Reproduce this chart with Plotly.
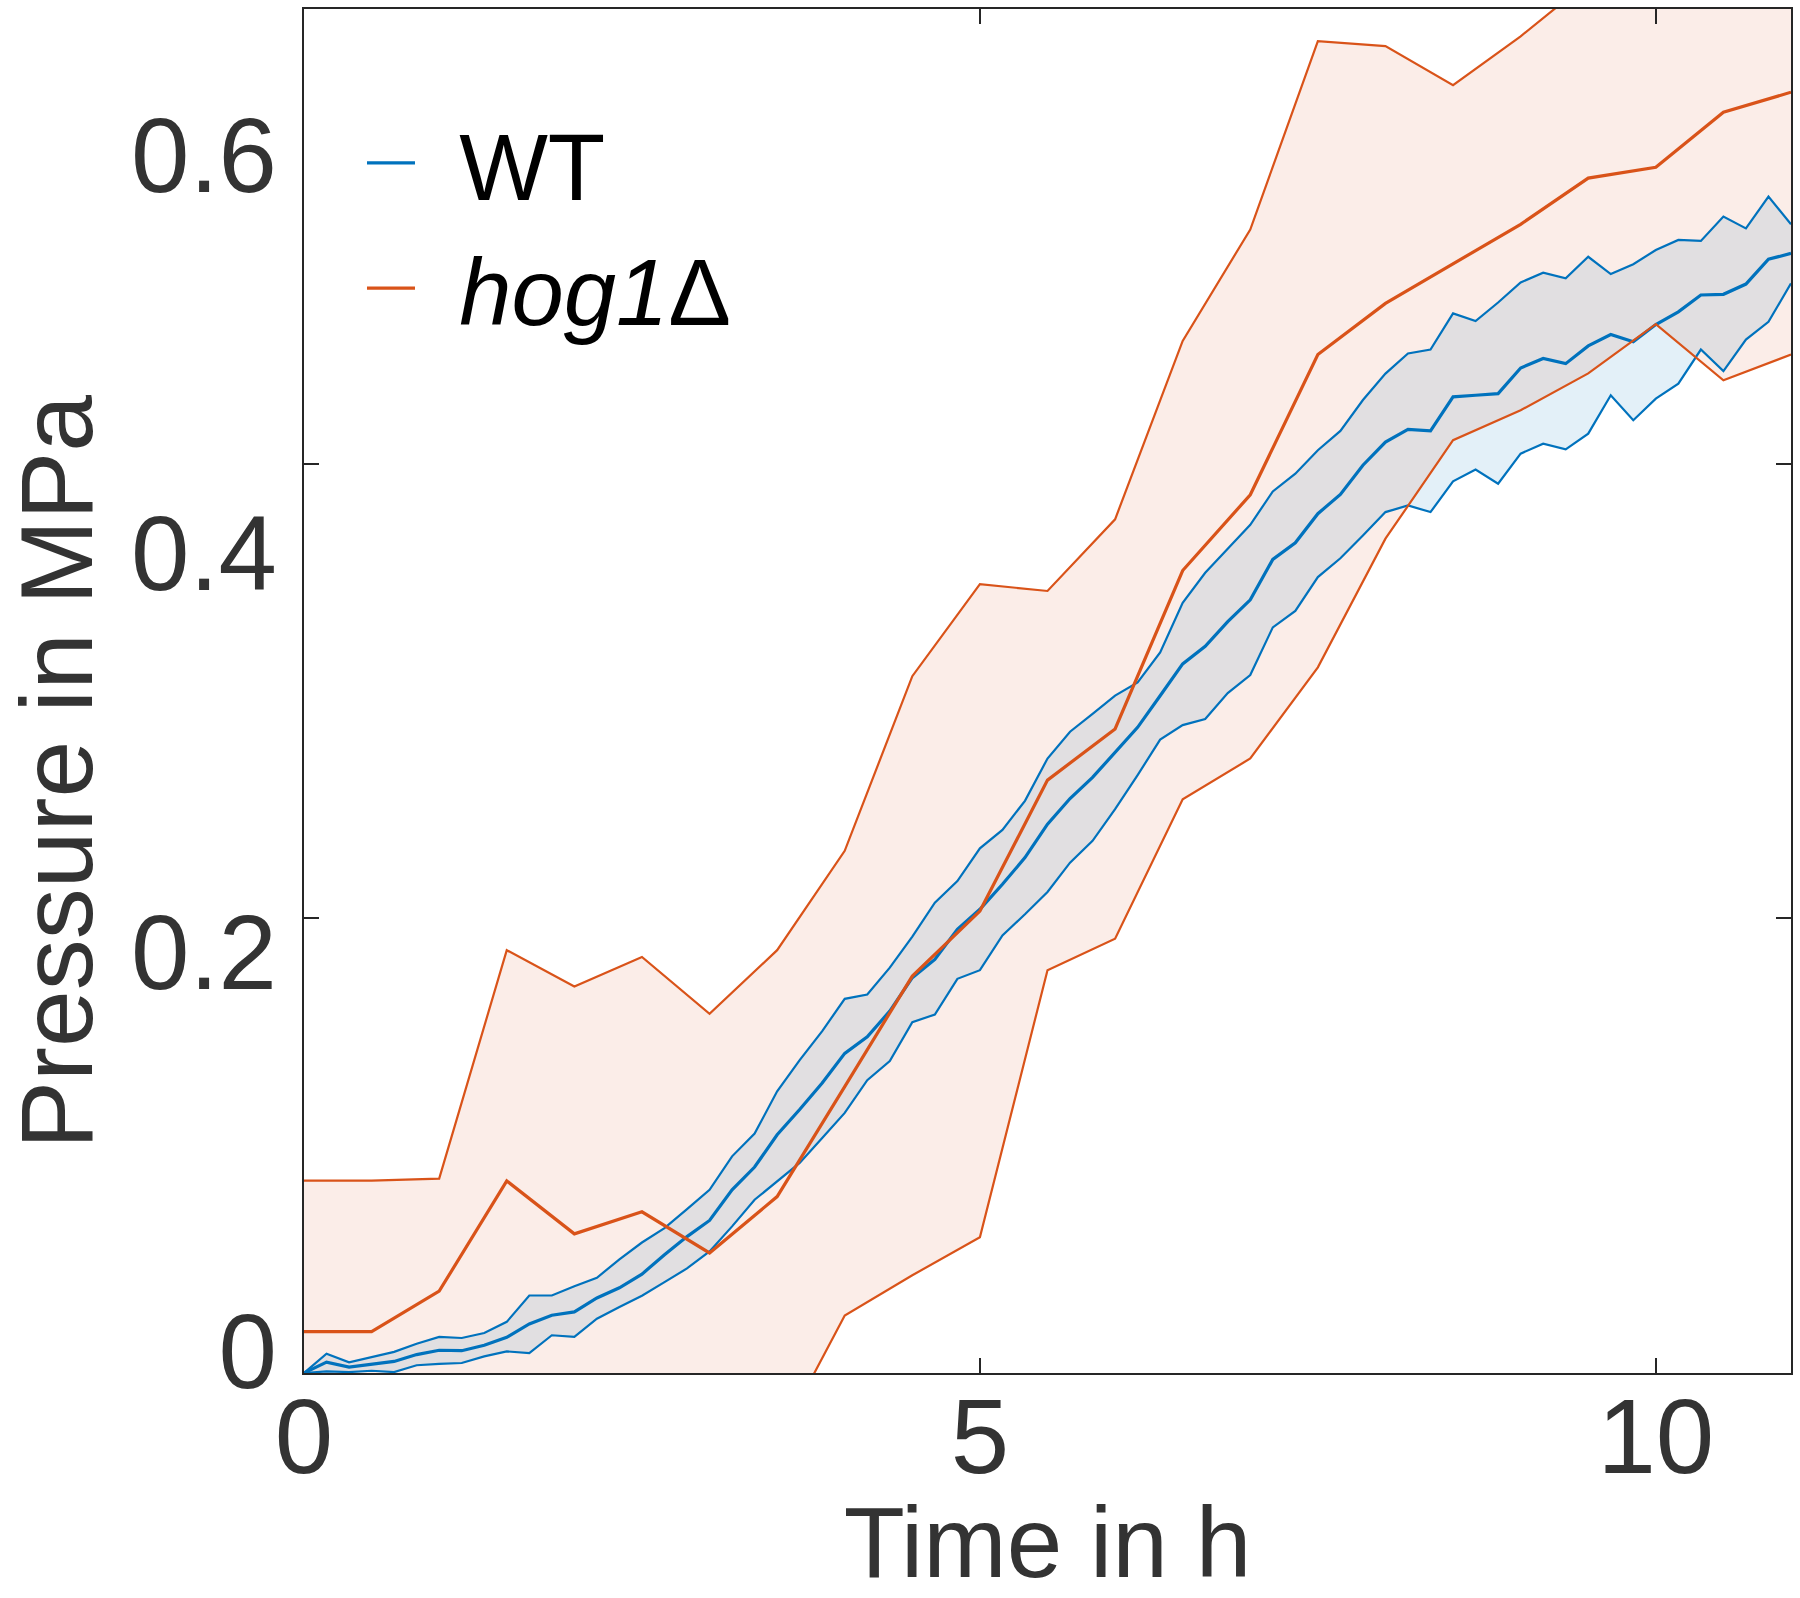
import plotly.graph_objects as go

# ---------------- data ----------------
# WT: sampled every 10 min (1/6 h) from 0 to 11 h
wt_time = [k / 6 for k in range(67)]
wt_mean = [0.0, 0.0048, 0.0026, 0.0040, 0.0051, 0.0081, 0.0100, 0.0098, 0.0122, 0.0157,
           0.0216, 0.0254, 0.0269, 0.0330, 0.0375, 0.0435, 0.0520, 0.0600, 0.0671, 0.0806,
           0.0906, 0.1048, 0.1159, 0.1276, 0.1406, 0.1479, 0.1592, 0.1739, 0.1819, 0.1952,
           0.2040, 0.2150, 0.2267, 0.2414, 0.2527, 0.2620, 0.2730, 0.2840, 0.2979, 0.3119,
           0.3197, 0.3305, 0.3401, 0.3579, 0.3652, 0.3780, 0.3865, 0.3993, 0.4095, 0.4151,
           0.4144, 0.4294, 0.4301, 0.4308, 0.4421, 0.4463, 0.4440, 0.4518, 0.4568, 0.4536,
           0.4612, 0.4668, 0.4742, 0.4745, 0.4790, 0.4899, 0.4925]
wt_upper = [0.0, 0.0085, 0.0047, 0.0070, 0.0093, 0.0129, 0.0159, 0.0154, 0.0176, 0.0225,
            0.0341, 0.0341, 0.0382, 0.0419, 0.0500, 0.0574, 0.0637, 0.0721, 0.0806, 0.0953,
            0.1053, 0.1239, 0.1376, 0.1504, 0.1646, 0.1665, 0.1783, 0.1920, 0.2069, 0.2164,
            0.2308, 0.2389, 0.2517, 0.2703, 0.2821, 0.2899, 0.2980, 0.3038, 0.3170, 0.3388,
            0.3520, 0.3626, 0.3731, 0.3878, 0.3956, 0.4059, 0.4144, 0.4280, 0.4396, 0.4485,
            0.4502, 0.4661, 0.4627, 0.4709, 0.4797, 0.4840, 0.4815, 0.4910, 0.4834, 0.4877,
            0.4940, 0.4984, 0.4980, 0.5087, 0.5035, 0.5175, 0.5053]
wt_lower = [0.0, 0.0007, 0.0004, 0.0010, 0.0004, 0.0034, 0.0040, 0.0044, 0.0073, 0.0095,
            0.0088, 0.0166, 0.0159, 0.0239, 0.0290, 0.0340, 0.0400, 0.0460, 0.0535, 0.0645,
            0.0762, 0.0843, 0.0924, 0.1034, 0.1144, 0.1288, 0.1372, 0.1543, 0.1577, 0.1734,
            0.1772, 0.1925, 0.2018, 0.2116, 0.2245, 0.2341, 0.2480, 0.2630, 0.2786, 0.2850,
            0.2877, 0.2991, 0.3070, 0.3280, 0.3352, 0.3501, 0.3584, 0.3684, 0.3787, 0.3816,
            0.3787, 0.3922, 0.3974, 0.3912, 0.4044, 0.4088, 0.4063, 0.4132, 0.4301, 0.4191,
            0.4286, 0.4352, 0.4502, 0.4407, 0.4546, 0.4624, 0.4793]

# hog1 deletion: sampled every 30 min
hog_time = [k * 0.5 for k in range(23)]
hog_mean = [0.0182, 0.0182, 0.0360, 0.0845, 0.0612, 0.0709, 0.0528, 0.0776, 0.1260, 0.1746,
            0.2032, 0.2608, 0.2833, 0.3530, 0.3863, 0.4480, 0.4705, 0.4881, 0.5053, 0.5256,
            0.5304, 0.5546, 0.5634]
hog_upper = [0.0846, 0.0846, 0.0855, 0.1860, 0.1700, 0.1830, 0.1580, 0.1860, 0.2297, 0.3065,
             0.3470, 0.3440, 0.3755, 0.4540, 0.5030, 0.5859, 0.5837, 0.5665, 0.5880, 0.6120,
             0.6300, 0.6500, 0.6700]
hog_lower = [-0.048, -0.048, -0.013, -0.017, -0.048, -0.042, -0.053, -0.031, 0.0253, 0.0430,
             0.0597, 0.1772, 0.1910, 0.2524, 0.2703, 0.3104, 0.3670, 0.4103, 0.4235, 0.4397,
             0.4614, 0.4367, 0.4480]

y_ticks = [0, 0.2, 0.4, 0.6]
y_ticklabels = ["0", "0.2", "0.4", "0.6"]
x_ticks = [0, 5, 10]
x_ticklabels = ["0", "5", "10"]
series_names = ["WT", "<i>hog1</i>\u0394"]

# ---------------- styling ----------------
BLUE = "#0072BD"
ORANGE = "#D95319"
BLUE_FILL = "rgba(0,114,189,0.11)"
ORANGE_FILL = "rgba(217,83,25,0.10)"
AXIS_COLOR = "#262626"
TEXT_COLOR = "#333333"
FONT = "Liberation Sans, Arial, Helvetica, sans-serif"
LEGEND_PAD = "\u2005\u2006"

fig = go.Figure()

# filled bands (drawn first; the orange band lies over the blue one)
fig.add_trace(go.Scatter(x=wt_time, y=wt_lower, mode="lines", line=dict(width=0),
                         showlegend=False, hoverinfo="skip"))
fig.add_trace(go.Scatter(x=wt_time, y=wt_upper, mode="lines", line=dict(width=0),
                         fill="tonexty", fillcolor=BLUE_FILL, showlegend=False, hoverinfo="skip"))
fig.add_trace(go.Scatter(x=hog_time, y=hog_lower, mode="lines", line=dict(width=0),
                         showlegend=False, hoverinfo="skip"))
fig.add_trace(go.Scatter(x=hog_time, y=hog_upper, mode="lines", line=dict(width=0),
                         fill="tonexty", fillcolor=ORANGE_FILL, showlegend=False, hoverinfo="skip"))

# WT lines
fig.add_trace(go.Scatter(x=wt_time, y=wt_upper, mode="lines", line=dict(color=BLUE, width=2.2),
                         showlegend=False, hoverinfo="skip"))
fig.add_trace(go.Scatter(x=wt_time, y=wt_lower, mode="lines", line=dict(color=BLUE, width=2.2),
                         showlegend=False, hoverinfo="skip"))
fig.add_trace(go.Scatter(x=wt_time, y=wt_mean, mode="lines", line=dict(color=BLUE, width=3.2),
                         name=LEGEND_PAD + series_names[0], showlegend=True))

# hog1 lines
fig.add_trace(go.Scatter(x=hog_time, y=hog_upper, mode="lines", line=dict(color=ORANGE, width=2.2),
                         showlegend=False, hoverinfo="skip"))
fig.add_trace(go.Scatter(x=hog_time, y=hog_lower, mode="lines", line=dict(color=ORANGE, width=2.2),
                         showlegend=False, hoverinfo="skip"))
fig.add_trace(go.Scatter(x=hog_time, y=hog_mean, mode="lines", line=dict(color=ORANGE, width=3.2),
                         name=LEGEND_PAD + series_names[1], showlegend=True))

# empty trace that carries the label axis (tick labels sit offset from the ticks,
# as in the reference figure)
fig.add_trace(go.Scatter(x=[], y=[], xaxis="x2", yaxis="y2", showlegend=False, hoverinfo="skip"))

fig.update_layout(
    width=1800, height=1598,
    margin=dict(l=304, r=9, t=9, b=198, autoexpand=False),
    paper_bgcolor="white", plot_bgcolor="rgba(0,0,0,0)",
    font=dict(family=FONT, color=TEXT_COLOR),
    showlegend=True,
    legend=dict(x=0.039, y=0.938, xanchor="left", yanchor="top", traceorder="normal",
                font=dict(size=94, color="black", family=FONT),
                bgcolor="rgba(0,0,0,0)", borderwidth=0, itemwidth=48,
                tracegroupgap=0),
    xaxis=dict(domain=[0, 1], anchor="y", range=[0, 11], tickvals=x_ticks, ticktext=x_ticklabels,
               ticks="inside", ticklen=15, tickwidth=1.5, tickcolor=AXIS_COLOR,
               showline=True, linecolor=AXIS_COLOR, linewidth=1.5, mirror="ticks",
               showgrid=False, zeroline=False, automargin=True,
               tickfont=dict(size=105, color=TEXT_COLOR, family=FONT), ticklabelstandoff=-28,
               title=dict(text="Time in h", font=dict(size=100, color=TEXT_COLOR, family=FONT),
                          standoff=2)),
    yaxis=dict(domain=[0.01941, 1], anchor="x", range=[0, 0.6], tickvals=y_ticks,
               ticks="inside", ticklen=15, tickwidth=1.5, tickcolor=AXIS_COLOR,
               showline=True, linecolor=AXIS_COLOR, linewidth=1.5, mirror="ticks",
               showgrid=False, zeroline=False, showticklabels=False, automargin=False),
    xaxis2=dict(domain=[0, 1], anchor="y2", range=[0, 11], visible=False),
    yaxis2=dict(domain=[0.004313, 0.89863], anchor="x2", range=[-0.021572, 0.602511],
                tickvals=y_ticks, ticktext=y_ticklabels, ticks="", showline=False,
                showgrid=False, zeroline=False, automargin=True,
                tickfont=dict(size=105, color=TEXT_COLOR, family=FONT), ticklabelstandoff=26,
                title=dict(text="Pressure in MPa", font=dict(size=102, color=TEXT_COLOR, family=FONT),
                           standoff=34)),
)

fig.write_html("out.html", config={"displayModeBar": False},
               post_script="document.body.style.margin='0px';document.body.style.overflow='hidden';")
